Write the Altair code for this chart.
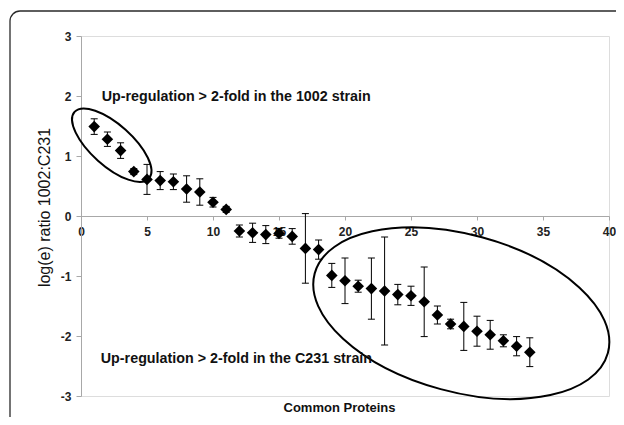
import altair as alt
import pandas as pd

# ---- data ----
protein = list(range(1, 35))
log_ratio = [1.49, 1.28, 1.09, 0.74, 0.61, 0.59, 0.57, 0.45, 0.40, 0.23,
             0.11, -0.25, -0.28, -0.31, -0.29, -0.34, -0.54, -0.56, -0.99, -1.08,
             -1.17, -1.21, -1.25, -1.31, -1.33, -1.43, -1.65, -1.80, -1.84, -1.92,
             -1.98, -2.08, -2.17, -2.27]
error = [0.13, 0.12, 0.13, 0.05, 0.25, 0.15, 0.13, 0.22, 0.22, 0.08,
         0.05, 0.10, 0.16, 0.15, 0.08, 0.13, 0.58, 0.16, 0.20, 0.38,
         0.10, 0.51, 0.90, 0.17, 0.16, 0.58, 0.15, 0.08, 0.40, 0.25,
         0.24, 0.10, 0.16, 0.24]
x_ticks = [0, 5, 10, 15, 20, 25, 30, 35, 40]
y_ticks = [-3, -2, -1, 0, 1, 2, 3]
annotation_labels = ["Up-regulation > 2-fold in the 1002 strain",
                     "Up-regulation > 2-fold in the C231 strain"]

df = pd.DataFrame({"protein": protein, "ratio": log_ratio, "err": error})
df["lo"] = df["ratio"] - df["err"]
df["hi"] = df["ratio"] + df["err"]

W, H = 528, 360
FONT = "Liberation Sans"

xs = alt.Scale(domain=[0, 40], nice=False, zero=False)
ys = alt.Scale(domain=[-3, 3], nice=False, zero=False)

x_axis = alt.Axis(values=x_ticks, offset=-H / 2, title="Common Proteins",
                  titleX=258, titleY=195, titleBaseline="alphabetic", titleAlign="center",
                  titleFontSize=13, titleFontWeight="bold", titleColor="#111",
                  labelFontSize=12, labelFontWeight="bold", labelColor="#222",
                  labelPadding=6, labelFlush=False, tickSize=4, tickColor="#a8a8a8",
                  domainColor="#a8a8a8", grid=False, labelExpr="'' + datum.value")
y_axis = alt.Axis(values=y_ticks, title="log(e) ratio 1002:C231",
                  titleX=-36.5, titleY=171, titleAngle=270, titleBaseline="middle",
                  titleAlign="center", titleFontSize=16, titleFontWeight="normal",
                  titleColor="#111", labelFontSize=12, labelFontWeight="bold",
                  labelColor="#222", labelPadding=5, labelFlush=False, tickSize=5,
                  tickColor="#a8a8a8", domainColor="#a8a8a8", grid=False,
                  labelExpr="'' + datum.value")

base = alt.Chart(df)

rules = base.mark_rule(color="black", strokeWidth=1).encode(
    x=alt.X("protein:Q", scale=xs, axis=x_axis),
    y=alt.Y("lo:Q", scale=ys, axis=y_axis),
    y2="hi:Q",
)
cap_shape = "M-1,0L1,0"
caps_hi = base.mark_point(shape=cap_shape, size=49, filled=False, color="black",
                          strokeWidth=1, opacity=1).encode(x="protein:Q", y="hi:Q")
caps_lo = base.mark_point(shape=cap_shape, size=49, filled=False, color="black",
                          strokeWidth=1, opacity=1).encode(x="protein:Q", y="lo:Q")
points = base.mark_point(shape="diamond", filled=True, color="black", size=135,
                         opacity=1).encode(x="protein:Q", y="ratio:Q")


def ellipse_path(k):
    c = 0.5523
    return (f"M1,0C1,{c*k:.4f} {c:.4f},{k:.4f} 0,{k:.4f}"
            f"C{-c:.4f},{k:.4f} -1,{c*k:.4f} -1,0"
            f"C-1,{-c*k:.4f} {-c:.4f},{-k:.4f} 0,{-k:.4f}"
            f"C{c:.4f},{-k:.4f} 1,{-c*k:.4f} 1,0Z")


one = alt.Data(values=[{}])
ell1 = alt.Chart(one).mark_point(shape=ellipse_path(0.415), size=9960, angle=41.8,
                                 filled=False, color="black", strokeWidth=2,
                                 opacity=1).encode(x=alt.datum(2.33), y=alt.datum(1.18))
ell2 = alt.Chart(one).mark_point(shape=ellipse_path(0.518), size=92294, angle=15.2,
                                 filled=False, color="black", strokeWidth=2,
                                 opacity=1).encode(x=alt.datum(28.81), y=alt.datum(-1.62))

txt1 = alt.Chart(one).mark_text(text=annotation_labels[0], align="left",
                                baseline="alphabetic", fontSize=14.3, fontWeight="bold",
                                color="#111").encode(x=alt.datum(1.57), y=alt.datum(1.92))
txt2 = alt.Chart(one).mark_text(text=annotation_labels[1], align="left",
                                baseline="alphabetic", fontSize=14.3, fontWeight="bold",
                                color="#111").encode(x=alt.datum(1.5), y=alt.datum(-2.45))

frame = alt.Chart(one).mark_rect(fillOpacity=0, stroke="#2a2a2a", strokeWidth=1.3,
                                 cornerRadius=10).encode(
    x=alt.value(-71), y=alt.value(-25), x2=alt.value(800), y2=alt.value(700))

chart = alt.layer(frame, rules, caps_hi, caps_lo, points, ell1, ell2, txt1, txt2).properties(
    width=W, height=H,
    autosize=alt.AutoSizeParams(type="none"),
    padding={"left": 73, "top": 28, "right": 7, "bottom": 21},
    background="white",
).configure_view(stroke="#c8c8c8", strokeWidth=1).configure(font=FONT)

chart.save("out.html", embed_options={"renderer": "svg", "actions": False})
